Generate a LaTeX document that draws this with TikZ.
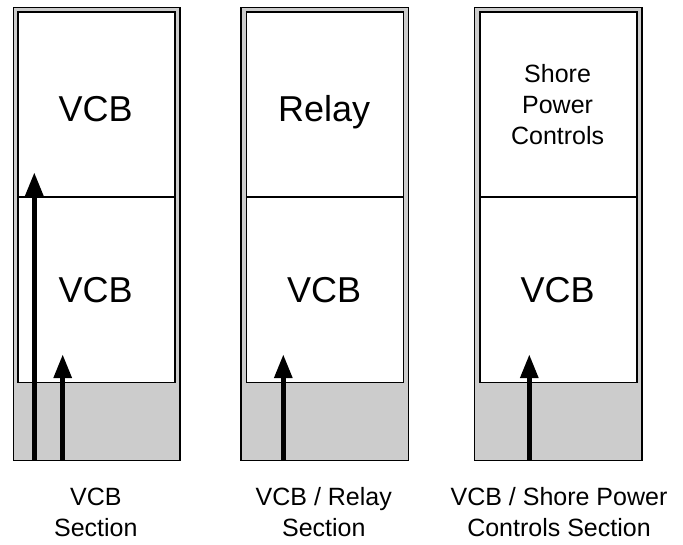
\documentclass[tikz,border=0pt]{standalone}
\usepackage{fontspec}
\setmainfont{Liberation Sans}
\usetikzlibrary{arrows.meta}
\begin{document}
\begin{tikzpicture}[x=1pt,y=-1pt,
  cabinet/.style={draw=black,fill=black!20,line width=1.5pt},
  compart/.style={draw=black,fill=white,line width=1.5pt},
  bigtxt/.style={font=\fontsize{36}{40}\selectfont,anchor=base,inner sep=0pt},
  midtxt/.style={font=\fontsize{25}{31}\selectfont,anchor=base,inner sep=0pt,align=center},
  feed/.style={line width=5.5pt,-{Triangle[length=24pt,width=17pt]}}]
\useasboundingbox (0,0) rectangle (683,544);
% section 1
\node[cabinet,minimum width=166.5pt,minimum height=453pt,inner sep=0pt,anchor=north west] (c1) at (12.5,6.5) {};
\node[compart,minimum width=157.3pt,minimum height=185.3pt,inner sep=0pt,anchor=north west] (u1) at (17,11) {};
\node[compart,minimum width=157.3pt,minimum height=185.4pt,inner sep=0pt,anchor=north west] (l1) at (17,196.3) {};
% section 2
\node[cabinet,minimum width=167.7pt,minimum height=453pt,inner sep=0pt,anchor=north west] (c2) at (240,6.5) {};
\node[compart,minimum width=157pt,minimum height=185.3pt,inner sep=0pt,anchor=north west] (u2) at (245.7,11) {};
\node[compart,minimum width=157pt,minimum height=185.4pt,inner sep=0pt,anchor=north west] (l2) at (245.7,196.3) {};
% section 3
\node[cabinet,minimum width=167.6pt,minimum height=453pt,inner sep=0pt,anchor=north west] (c3) at (473.7,6.5) {};
\node[compart,minimum width=156.7pt,minimum height=185.3pt,inner sep=0pt,anchor=north west] (u3) at (479.3,11) {};
\node[compart,minimum width=156.7pt,minimum height=185.4pt,inner sep=0pt,anchor=north west] (l3) at (479.3,196.3) {};
% texts
\node[bigtxt] (t1u) at (95.6,121.7) {VCB};
\node[bigtxt] (t1l) at (95.6,302.3) {VCB};
\node[bigtxt] (t2u) at (324.2,121.7) {Relay};
\node[bigtxt] (t2l) at (324.2,302.3) {VCB};
\node[midtxt] (t3u) at (557.6,144) {Shore\\Power\\Controls};
\node[bigtxt] (t3l) at (557.6,302.3) {VCB};
% arrows
\coordinate (a1s) at (34.3,459.5); \coordinate (a1e) at (34.3,172);
\coordinate (a2s) at (62.7,459.5); \coordinate (a2e) at (62.7,354);
\coordinate (a3s) at (283.3,459.5); \coordinate (a3e) at (283.3,354);
\coordinate (a4s) at (529.3,459.5); \coordinate (a4e) at (529.3,354);
\draw[feed] (a1s) -- (a1e);
\draw[feed] (a2s) -- (a2e);
\draw[feed] (a3s) -- (a3e);
\draw[feed] (a4s) -- (a4e);
% labels
\node[midtxt] (s1) at (95.8,536.5) {VCB\\Section};
\node[midtxt] (s2) at (323.8,536.5) {VCB / Relay\\Section};
\node[midtxt] (s3) at (559,536.5) {VCB / Shore Power\\Controls Section};
\end{tikzpicture}
\end{document}
